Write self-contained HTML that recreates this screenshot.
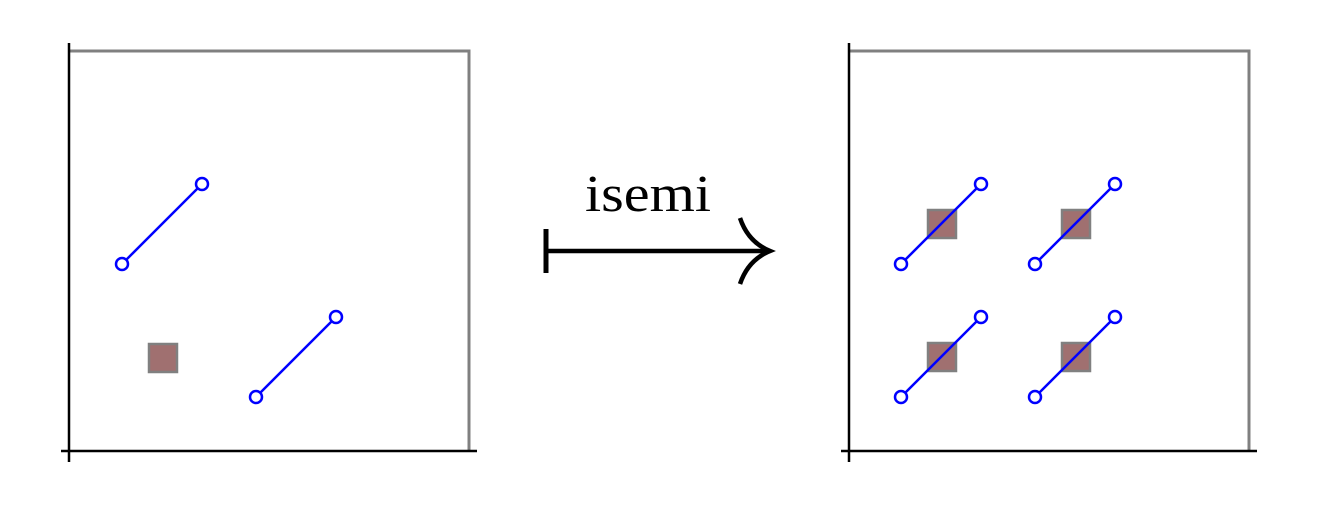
<!DOCTYPE html>
<html><head><style>body{margin:0;background:#fff}</style></head><body>
<svg width="1318" height="518" xmlns="http://www.w3.org/2000/svg">
<g id="L">
<polyline points="69,51 469,51 469,451" fill="none" stroke="#808080" stroke-width="3"/>
<line x1="69" y1="43" x2="69" y2="462" stroke="#000" stroke-width="2.5"/>
<line x1="61" y1="451" x2="477" y2="451" stroke="#000" stroke-width="2.5"/>
</g>
<rect x="149" y="344" width="28" height="28" fill="#a07070" stroke="#808080" stroke-width="2.5"/>
<g stroke="#0000ff" stroke-width="2.5" fill="#fff">
<line x1="122" y1="264" x2="202" y2="184"/><circle cx="122" cy="264" r="6"/><circle cx="202" cy="184" r="6"/>
<line x1="256" y1="397" x2="336" y2="317"/><circle cx="256" cy="397" r="6"/><circle cx="336" cy="317" r="6"/>
</g>
<use href="#L" transform="translate(780,0)"/>
<g fill="#a07070" stroke="#808080" stroke-width="2.5">
<rect x="928" y="210" width="28" height="28"/><rect x="1062" y="210" width="28" height="28"/>
<rect x="928" y="343" width="28" height="28"/><rect x="1062" y="343" width="28" height="28"/>
</g>
<g stroke="#0000ff" stroke-width="2.5" fill="#fff">
<line x1="901" y1="264" x2="981" y2="184"/><circle cx="901" cy="264" r="6"/><circle cx="981" cy="184" r="6"/>
<line x1="1035" y1="264" x2="1115" y2="184"/><circle cx="1035" cy="264" r="6"/><circle cx="1115" cy="184" r="6"/>
<line x1="901" y1="397" x2="981" y2="317"/><circle cx="901" cy="397" r="6"/><circle cx="981" cy="317" r="6"/>
<line x1="1035" y1="397" x2="1115" y2="317"/><circle cx="1035" cy="397" r="6"/><circle cx="1115" cy="317" r="6"/>
</g>
<line x1="546" y1="229" x2="546" y2="273" stroke="#000" stroke-width="5"/>
<line x1="546" y1="251" x2="766" y2="251" stroke="#000" stroke-width="4.5"/>
<path d="M740,218 Q748,242 770,251 Q748,260 740,284" fill="none" stroke="#000" stroke-width="4.5"/>
<text x="648" y="211" font-family="Liberation Serif, serif" font-size="52" text-anchor="middle" textLength="126" lengthAdjust="spacingAndGlyphs">isemi</text>
</svg>
</body></html>
